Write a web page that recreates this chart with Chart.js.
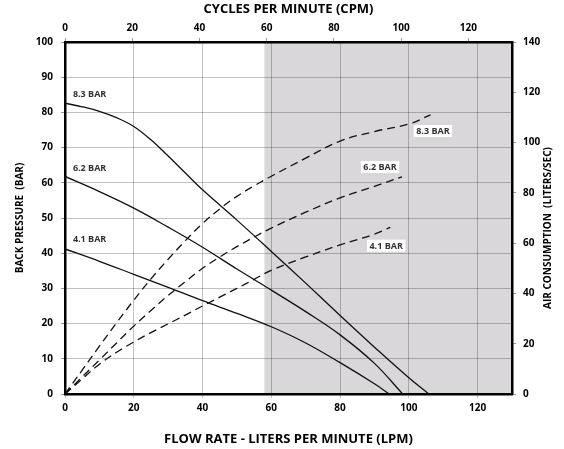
<!DOCTYPE html>
<html>
<head>
<meta charset="utf-8">
<script src="https://cdn.jsdelivr.net/npm/chart.js@4.4.1/dist/chart.umd.min.js"></script>
<style>
  html, body { margin: 0; padding: 0; background: #fff; }
</style>
</head>
<body>
<canvas id="pumpChart" width="564" height="449"></canvas>
<script>
// back pressure (BAR) against flow (LPM), solid curves
const pressure83Lpm = [0, 5, 10, 15, 20, 25, 30, 35, 40, 50, 60, 70, 80, 90, 100, 105.8];
const pressure83 = [82.6, 81.6, 80.3, 78.5, 76, 72.2, 67.6, 62.8, 58, 49.4, 40.5, 31.5, 22.3, 13.3, 4.6, 0];
const pressure62Lpm = [0, 10, 20, 30, 40, 50, 60, 70, 80, 90, 98.2];
const pressure62 = [61.8, 57.5, 52.8, 47.4, 41.7, 35.5, 29.5, 23.4, 16.8, 8.7, 0];
const pressure41Lpm = [0, 10, 20, 30, 40, 50, 60, 70, 80, 90, 94.3];
const pressure41 = [41.2, 37.7, 34, 30.3, 26.5, 22.9, 19.1, 14.5, 8.9, 2.9, 0];

// air consumption (LITERS/SEC) against flow (LPM), dashed curves
const air83Lpm = [0, 5, 10, 15, 20, 25, 30, 35, 40, 45, 50, 55, 60, 70, 80, 90, 100, 106.3];
const air83 = [0, 9.5, 19, 28.3, 37.3, 45.8, 53.6, 61, 67.8, 73.6, 78.6, 82.8, 86.6, 93.8, 100.6, 104.4, 107.4, 111];
const air62Lpm = [0, 5, 10, 15, 20, 25, 30, 35, 40, 45, 50, 55, 60, 70, 80, 90, 98];
const air62 = [0, 6.8, 13.5, 20.3, 27, 33.2, 39.2, 44.7, 50, 54.5, 58.6, 62.4, 66, 72.3, 78, 82.6, 86.4];
const air41Lpm = [0, 5, 10, 15, 20, 25, 30, 35, 40, 45, 50, 55, 60, 70, 80, 90, 94.6];
const air41 = [0, 6, 11.8, 16.6, 20.7, 24.4, 27.9, 31.4, 35, 38.5, 42, 45.6, 49.2, 54.5, 59.3, 63.6, 66.3];

const curveNames = ['8.3 BAR', '6.2 BAR', '4.1 BAR'];
const shadeFromLpm = 58;

const FONT = '"Open Sans", "Liberation Sans", sans-serif';
const gridColor = 'rgba(0,0,0,0.24)';
const toPoints = (xs, ys) => xs.map((x, i) => ({ x, y: ys[i] }));

// label anchors: left labels (pressure axis), right boxed labels (air axis)
const pressureLabelSpots = [[2.3, 85.2], [2.3, 64.2], [2.3, 44]];
const airLabelSpots = [[107, 104.6], [91.6, 90.3], [93.4, 59]];

const solid = (data) => ({
  data,
  xAxisID: 'x',
  yAxisID: 'y',
  borderColor: '#111',
  borderWidth: 1.3,
  pointRadius: 0,
  fill: false,
  tension: 0.4,
});
const dashed = (data) => ({
  data,
  xAxisID: 'x',
  yAxisID: 'y2',
  borderColor: '#111',
  borderWidth: 1.3,
  borderDash: [8, 5],
  pointRadius: 0,
  fill: false,
  tension: 0.4,
});

const chartDecor = {
  id: 'chartDecor',
  beforeDraw(chart) {
    const { ctx, chartArea: a, scales } = chart;
    const left = scales.x.getPixelForValue(shadeFromLpm);
    ctx.save();
    ctx.fillStyle = '#d9d7d9';
    ctx.fillRect(left, a.top, a.right - left, a.bottom - a.top);
    ctx.restore();
  },
  afterDatasetsDraw(chart) {
    const { ctx, scales } = chart;
    ctx.save();
    ctx.font = `bold 9px ${FONT}`;
    ctx.textBaseline = 'middle';
    ctx.fillStyle = '#333';
    ctx.textAlign = 'left';
    pressureLabelSpots.forEach(([lpm, bar], i) => {
      ctx.fillText(curveNames[i], scales.x.getPixelForValue(lpm), scales.y.getPixelForValue(bar));
    });
    ctx.textAlign = 'center';
    airLabelSpots.forEach(([lpm, air], i) => {
      const px = scales.x.getPixelForValue(lpm);
      const py = scales.y2.getPixelForValue(air);
      const w = ctx.measureText(curveNames[i]).width + 5;
      ctx.fillStyle = '#fff';
      ctx.fillRect(px - w / 2, py - 6, w, 12);
      ctx.fillStyle = '#333';
      ctx.fillText(curveNames[i], px, py + 0.5);
    });
    ctx.restore();
  },
  afterDraw(chart) {
    const { ctx, chartArea: a } = chart;
    ctx.save();
    ctx.translate(548, (a.top + a.bottom) / 2 + 10);
    ctx.rotate(-Math.PI / 2);
    ctx.font = `bold 10px ${FONT}`;
    ctx.fillStyle = '#000';
    ctx.textAlign = 'center';
    ctx.textBaseline = 'middle';
    ctx.fillText('AIR CONSUMPTION  (LITERS/SEC)', 0, 0);
    ctx.restore();
  },
};

const tickFont = { family: FONT, size: 10, weight: 'bold' };
const titleFont = { family: FONT, size: 13, weight: 'bold' };
const edge = { display: true, color: '#000', width: 2.5 };

new Chart(document.getElementById('pumpChart'), {
  type: 'line',
  data: {
    datasets: [
      solid(toPoints(pressure83Lpm, pressure83)),
      solid(toPoints(pressure62Lpm, pressure62)),
      solid(toPoints(pressure41Lpm, pressure41)),
      dashed(toPoints(air83Lpm, air83)),
      dashed(toPoints(air62Lpm, air62)),
      dashed(toPoints(air41Lpm, air41)),
    ],
  },
  options: {
    responsive: false,
    animation: false,
    layout: { padding: 0 },
    plugins: {
      legend: { display: false },
      tooltip: { enabled: false },
    },
    scales: {
      x: {
        type: 'linear',
        position: 'bottom',
        min: 0,
        max: 130,
        ticks: { stepSize: 20, includeBounds: false, color: '#000', font: tickFont, padding: 4 },
        grid: { color: gridColor, tickLength: 4, tickColor: gridColor },
        border: edge,
        title: {
          display: true,
          text: 'FLOW RATE - LITERS PER MINUTE (LPM)',
          color: '#000',
          font: titleFont,
          padding: { top: 0, bottom: 2 },
        },
        afterFit(scale) { scale.height = 55; },
      },
      x2: {
        type: 'linear',
        position: 'top',
        min: 0,
        max: 133,
        ticks: { stepSize: 20, includeBounds: false, color: '#000', font: tickFont, padding: 4 },
        grid: { drawOnChartArea: false, tickLength: 4, tickColor: '#999' },
        border: edge,
        title: {
          display: true,
          text: 'CYCLES PER MINUTE (CPM)',
          color: '#000',
          font: titleFont,
          padding: { top: 1, bottom: 0 },
        },
        afterFit(scale) { scale.height = 42; },
      },
      y: {
        type: 'linear',
        position: 'left',
        min: 0,
        max: 100,
        ticks: { stepSize: 10, color: '#000', font: tickFont, padding: 8 },
        grid: { color: gridColor, tickLength: 4, tickColor: '#999' },
        border: edge,
        title: {
          display: true,
          text: 'BACK PRESSURE  (BAR)',
          color: '#000',
          font: { family: FONT, size: 10, weight: 'bold' },
          padding: { top: 14, bottom: 0 },
        },
        afterFit(scale) { scale.width = 65; },
      },
      y2: {
        type: 'linear',
        position: 'right',
        min: 0,
        max: 140,
        ticks: { stepSize: 20, color: '#000', font: tickFont, padding: 7 },
        grid: { drawOnChartArea: false, tickLength: 4, tickColor: '#999' },
        border: edge,
        afterFit(scale) { scale.width = 52; },
      },
    },
  },
  plugins: [chartDecor],
});
</script>
</body>
</html>
